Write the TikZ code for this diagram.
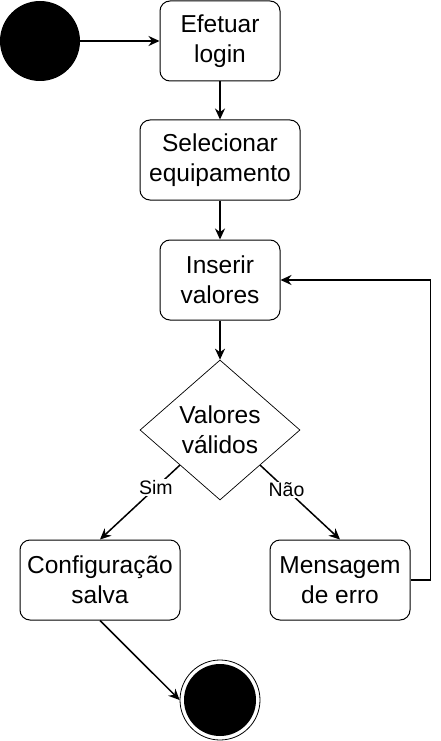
\documentclass[tikz,border=0pt]{standalone}
\usepackage{fontspec}
\setmainfont{Liberation Sans}
\usetikzlibrary{shapes.geometric,arrows.meta}
\begin{document}
\begin{tikzpicture}[x=1pt, y=-1pt,
    box/.style={draw, rounded corners=10pt, line width=1pt, align=center,
        font=\fontsize{24.5}{30}\selectfont, minimum height=80pt, inner sep=0pt},
    decision/.style={draw, diamond, line width=0.7pt, align=center,
        font=\fontsize{24.5}{30}\selectfont, minimum width=160pt, minimum height=140pt, inner sep=0pt},
    flow/.style={line width=1.5pt, -{Stealth[length=11pt,width=10pt]}},
    lbl/.style={fill=white, font=\fontsize{19.5}{22}\selectfont, inner sep=1pt}]
    \useasboundingbox (0,0) rectangle (440,741);
    % Start and activities
    \node[circle, fill=black, minimum size=80pt, inner sep=0pt] (start) at (40,41) {};
    \node[box, minimum width=120pt] (login) at (220,41) {Efetuar\\login};
    \node[box, minimum width=160pt] (equip) at (220,160) {Selecionar\\equipamento};
    \node[box, minimum width=120pt] (ins) at (220,280) {Inserir\\valores};
    \node[decision] (valid) at (220,430) {Valores\\válidos};
    \node[box, minimum width=160pt] (conf) at (100,580) {Configuração\\salva};
    \node[box, minimum width=140pt] (msg) at (340,580) {Mensagem\\de erro};
    % Final node
    \node[circle, draw, line width=0.8pt, minimum size=80pt, inner sep=0pt] (final) at (220,700) {};
    \fill (final.center) circle (36pt);
    % Transitions
    \draw[flow] (start) -- (login);
    \draw[flow] (login) -- (equip);
    \draw[flow] (equip) -- (ins);
    \draw[flow] (ins) -- (valid);
    \draw[flow] (valid.south west) -- node[lbl, pos=0.3] {Sim} (conf.north);
    \draw[flow] (valid.south east) -- node[lbl, pos=0.33] {Não} (msg.north);
    \draw[flow] (msg.east) -- ++(20,0) |- (ins.east);
    \draw[flow] (conf.south) -- (final.west);
\end{tikzpicture}
\end{document}
